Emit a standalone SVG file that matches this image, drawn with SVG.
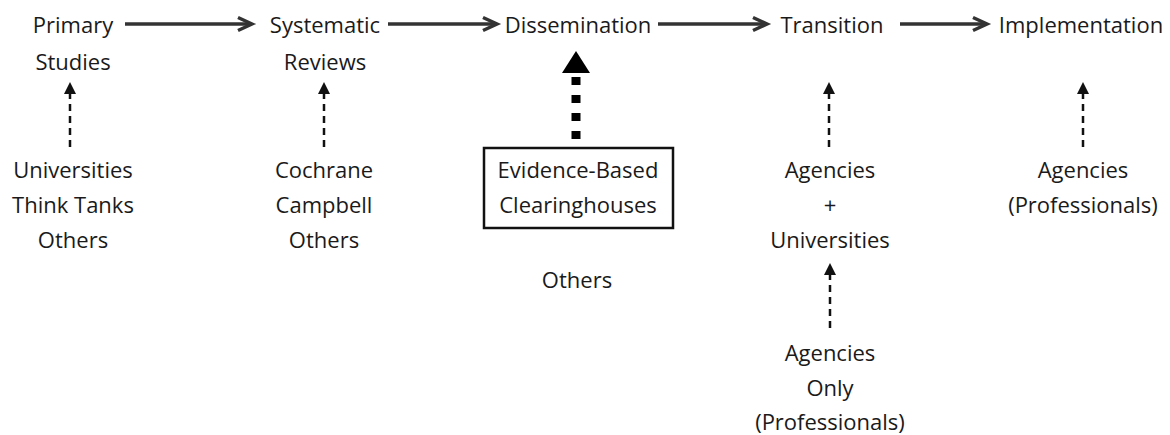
<svg xmlns="http://www.w3.org/2000/svg" width="1170" height="435" viewBox="0 0 1170 435">
<defs>
<style>
text{font-family:"Open Sans","Liberation Sans",sans-serif;font-size:22px;fill:#1a1a1a;text-anchor:middle}
.h{stroke:#333;stroke-width:3.5;fill:none}
.chev{stroke:#333;stroke-width:3.5;fill:none;stroke-linejoin:miter}
.d{stroke:#111;stroke-width:2.5;stroke-dasharray:7 5;fill:none}
.hd{fill:#111}
</style>
</defs>
<rect width="1170" height="435" fill="#fff"/>
<g id="primary"><text x="73" y="33">Primary</text><text x="73" y="70">Studies</text></g>
<g id="systematic"><text x="325" y="33">Systematic</text><text x="325" y="70">Reviews</text></g>
<g id="dissemination"><text x="578" y="33">Dissemination</text></g>
<g id="transition"><text x="832" y="33">Transition</text></g>
<g id="implementation"><text x="1081" y="33">Implementation</text></g>
<g id="src-primary"><text x="73" y="178">Universities</text><text x="73" y="213">Think Tanks</text><text x="73" y="248">Others</text></g>
<g id="src-systematic"><text x="324" y="178">Cochrane</text><text x="324" y="213">Campbell</text><text x="324" y="248">Others</text></g>
<g id="clearinghouses"><rect x="484" y="148" width="189" height="80" fill="none" stroke="#111" stroke-width="2.5"/><text x="578" y="178">Evidence-Based</text><text x="578" y="213">Clearinghouses</text></g>
<g id="others-diss"><text x="577" y="288">Others</text></g>
<g id="src-transition"><text x="830" y="178">Agencies</text><text x="830" y="213">+</text><text x="830" y="248">Universities</text></g>
<g id="agencies-only"><text x="830" y="361">Agencies</text><text x="830" y="396">Only</text><text x="830" y="430">(Professionals)</text></g>
<g id="src-implementation"><text x="1083" y="178">Agencies</text><text x="1083" y="213">(Professionals)</text></g>
<g id="connectors">
<line class="h" x1="125" y1="24" x2="250" y2="24"/><polyline class="chev" points="238,17.5 252,24 238,30.5"/>
<line class="h" x1="388" y1="24" x2="495" y2="24"/><polyline class="chev" points="483,17.5 497,24 483,30.5"/>
<line class="h" x1="658" y1="24" x2="765" y2="24"/><polyline class="chev" points="753,17.5 767,24 753,30.5"/>
<line class="h" x1="900" y1="24" x2="985" y2="24"/><polyline class="chev" points="973,17.5 987,24 973,30.5"/>
<line class="d" x1="70" y1="147" x2="70" y2="93"/><polygon class="hd" points="70,82 64,94 76,94"/>
<line class="d" x1="324" y1="147" x2="324" y2="93"/><polygon class="hd" points="324,82 318,94 330,94"/>
<line class="d" x1="829" y1="147" x2="829" y2="93"/><polygon class="hd" points="829,82 823,94 835,94"/>
<line class="d" x1="1083" y1="147" x2="1083" y2="93"/><polygon class="hd" points="1083,82 1077,94 1089,94"/>
<line class="d" x1="830" y1="328" x2="830" y2="274"/><polygon class="hd" points="830,263 824,275 836,275"/>
<line x1="576" y1="139" x2="576" y2="73" stroke="#000" stroke-width="9" stroke-dasharray="8 10"/>
<polygon points="576,51 562,73 590,73" fill="#000"/>
</g>
</svg>
